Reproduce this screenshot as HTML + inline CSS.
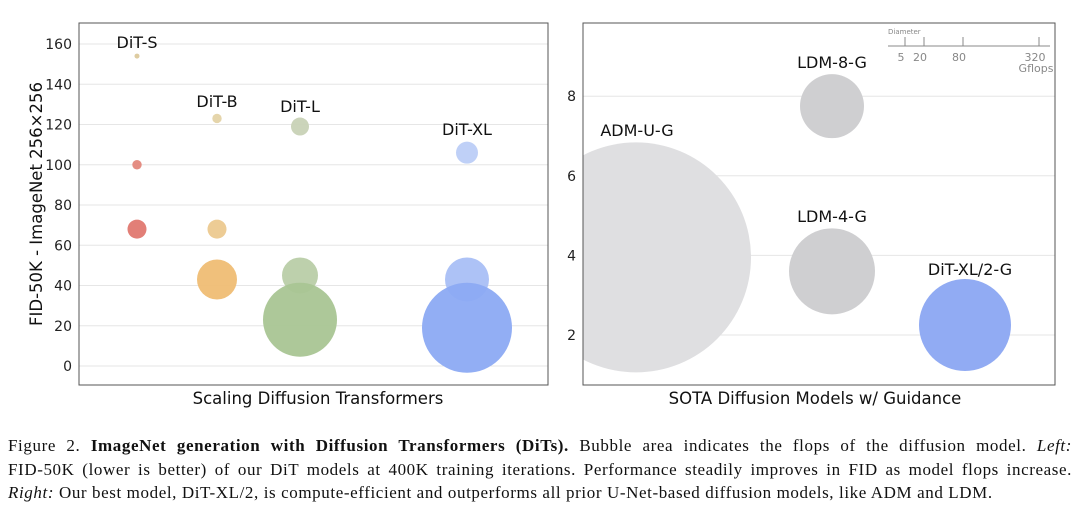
<!DOCTYPE html>
<html><head><meta charset="utf-8"><style>
body{margin:0;background:#fff;width:1080px;height:524px;overflow:hidden}
svg text{font-family:"DejaVu Sans","Liberation Sans",sans-serif}
.cap{position:absolute;left:8px;top:434px;width:1064px;font-family:"Liberation Serif",serif;font-size:17px;line-height:23.5px;color:#111;letter-spacing:0.6px}
.cap div{white-space:nowrap}
.j{text-align:justify;text-align-last:justify}
</style></head><body>
<svg width="1080" height="430" style="position:absolute;left:0;top:0">
<g id="L"></g>
<g id="R"></g>
</svg>
<div class="cap">
<div class="j">Figure 2. <b>ImageNet generation with Diffusion Transformers (DiTs).</b> Bubble area indicates the flops of the diffusion model. <i>Left:</i></div>
<div class="j">FID-50K (lower is better) of our DiT models at 400K training iterations. Performance steadily improves in FID as model flops increase.</div>
<div><i>Right:</i> Our best model, DiT-XL/2, is compute-efficient and outperforms all prior U-Net-based diffusion models, like ADM and LDM.</div>
</div>
<script>
const leftTicks=[0,20,40,60,80,100,120,140,160];
const leftGroups=["DiT-S","DiT-B","DiT-L","DiT-XL"];
const leftFid=[[154,100,68],[123,68,43],[119,45,23],[106,43,19]];
const leftRadius=[[2.5,4.7,9.5],[4.7,9.5,20],[9,18,37],[11,22,45]];
const leftColors=[["#dcc99c","#e3877b","#e07870"],["#e4d3a6","#ecc98f","#efbd74"],["#c8d2b6","#b9cda8","#a9c594"],["#bccdf7","#a9bff5","#8caaf3"]];
const rightTicks=[2,4,6,8];
const rightModels=["ADM-U-G","LDM-8-G","LDM-4-G","DiT-XL/2-G"];
const rightFid=[3.95,7.75,3.6,2.25];
const rightRadius=[115,32,43,46];
const NS="http://www.w3.org/2000/svg";
function mk(p,t,a,txt){const e=document.createElementNS(NS,t);for(const k in a)e.setAttribute(k,a[k]);if(txt!==undefined)e.textContent=txt;p.appendChild(e);return e;}
const L=document.getElementById('L');
const ly=v=>366-(v/20)*40.25;
const lx=[137,217,300,467];
mk(L,'rect',{x:79,y:23,width:469,height:362,fill:'#fff'});
leftTicks.forEach(t=>{const g=mk(L,'line',{x1:79,x2:548,y1:ly(t),y2:ly(t),stroke:'#e6e6e6'});

const tx=mk(L,'text',{x:72,y:ly(t)+5,'text-anchor':'end','font-size':14,fill:'#222'},t);
});
const labelY=[48,107,112,135];
leftGroups.forEach((g,i)=>{leftFid[i].forEach((f,j)=>{const c=mk(L,'circle',{cx:lx[i],cy:ly(f),r:leftRadius[i][j],fill:leftColors[i][j],'fill-opacity':0.95});
});
const lb=mk(L,'text',{x:lx[i],y:labelY[i],'text-anchor':'middle','font-size':16,fill:'#111'},g);
});
mk(L,'rect',{x:79,y:23,width:469,height:362,fill:'none',stroke:'#555','stroke-width':1});
const yl=mk(L,'text',{x:0,y:0,'text-anchor':'middle','font-size':16.5,fill:'#111',transform:'translate(42,204) rotate(-90)'},'FID-50K - ImageNet 256×256');

const xl=mk(L,'text',{x:318,y:404,'text-anchor':'middle','font-size':16.5,fill:'#111'},'Scaling Diffusion Transformers');

const R=document.getElementById('R');
const ry=v=>335-(v-2)*39.8;
const rx=[636,832,832,965];
const rc=["#dfdfe1","#cfcfd1","#cfcfd1","#91abf3"];
mk(R,'defs',{}).innerHTML='<clipPath id="rc"><rect x="583" y="23" width="472" height="362"/></clipPath>';
rightTicks.forEach(t=>{const g=mk(R,'line',{x1:583,x2:1055,y1:ry(t),y2:ry(t),stroke:'#e6e6e6'});

const tx=mk(R,'text',{x:576,y:ry(t)+5,'text-anchor':'end','font-size':14,fill:'#222'},t);
});
const lblPos=[[637,136],[832,68],[832,222],[970,275]];
rightModels.forEach((m,i)=>{const c=mk(R,'circle',{cx:rx[i],cy:ry(rightFid[i]),r:rightRadius[i],fill:rc[i],'clip-path':'url(#rc)'});

const lb=mk(R,'text',{x:lblPos[i][0],y:lblPos[i][1],'text-anchor':'middle','font-size':16,fill:'#111'},m);
});
mk(R,'rect',{x:583,y:23,width:472,height:362,fill:'none',stroke:'#555','stroke-width':1});
const lg=mk(R,'g',{});
mk(lg,'text',{x:888,y:34,'font-size':7,fill:'#888'},'Diameter');
mk(lg,'line',{x1:888,x2:1050,y1:46,y2:46,stroke:'#888'});
[[905,'5'],[924,'20'],[963,'80'],[1039,'320']].forEach(([x,t])=>{mk(lg,'line',{x1:x,x2:x,y1:37,y2:46,stroke:'#888'});mk(lg,'text',{x:x-4,y:61,'font-size':11,fill:'#888','text-anchor':'middle'},t);});
mk(lg,'text',{x:1036,y:72,'font-size':11,fill:'#888','text-anchor':'middle'},'Gflops');
const xr=mk(R,'text',{x:815,y:404,'text-anchor':'middle','font-size':16.5,fill:'#111'},'SOTA Diffusion Models w/ Guidance');

</script>
</body></html>
